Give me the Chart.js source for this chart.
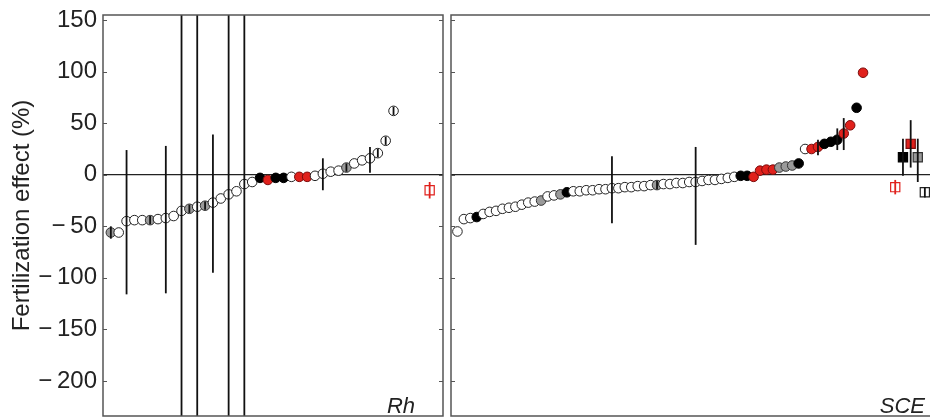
<!DOCTYPE html>
<html>
<head>
<meta charset="utf-8">
<script src="https://cdn.jsdelivr.net/npm/chart.js@4.4.1/dist/chart.umd.min.js"></script>
<style>
  html, body { margin: 0; padding: 0; background: #fff; overflow: hidden; width: 930px; height: 419px; }
  canvas { display: block; }
  #rhBox { position: absolute; left: 0; top: 0; width: 446px; height: 419px; }
  #sceBox { position: absolute; left: 446px; top: 0; width: 484px; height: 419px; }
</style>
</head>
<body>
<div id="rhBox"><canvas id="rhChart" width="446" height="419"></canvas></div>
<div id="sceBox"><canvas id="sceChart" width="484" height="419"></canvas></div>
<script>
// y axis
const yTicks = [-200, -150, -100, -50, 0, 50, 100, 150];
const yMin = -234;
const yMax = 155;

// Rh panel: ranked study effects, w = white, g = grey, k = black, r = red
const rhEffect = [-56, -56, -45, -44, -44, -44, -43, -42, -40, -35, -33, -31, -30, -27, -23, -19, -16, -9, -7,
  -3, -5, -3, -3, -2, -2, -2, -1, 1, 3, 4, 7, 11, 14, 16, 21, 33, 62];
const rhGroup = ['g', 'w', 'w', 'w', 'w', 'g', 'w', 'w', 'w', 'w', 'g', 'w', 'g', 'w', 'w', 'w', 'w', 'w', 'w',
  'k', 'r', 'k', 'k', 'w', 'r', 'r', 'w', 'w', 'w', 'w', 'g', 'w', 'w', 'w', 'w', 'w', 'w'];
const rhMeanX = [41.6];
const rhMean = [-15];
const rhMeanGroup = ['ro'];
// error bars (x position, low, high); +-400 runs off the plot
const rhBarAt = [1, 3, 6, 8, 10, 11, 12, 13, 14, 16, 18, 28, 31, 34, 35, 36, 37, 41.6];
const rhBarLo = [-62, -116, -48, -115, -400, -37, -400, -34, -95, -400, -400, -15, 3, 2, 17, 29, 58, -23];
const rhBarHi = [-50, 24, -40, 28, 400, -29, 400, -26, 39, 400, 400, 16, 11, 27, 25, 37, 66, -7];

// SCE panel
const sceEffect = [-55, -43, -42, -41, -38, -36, -35, -33, -32, -31, -29, -27, -26, -25, -21, -20, -19, -17,
  -16, -16, -15, -15, -14, -14, -13, -13, -12, -12, -11, -11, -10, -10, -9, -9, -8, -8, -7, -7, -6, -5, -5,
  -4, -3, -2, -1, -1, -2, 4, 5, 5, 7, 8, 9, 11, 25, 25, 27, 30, 32, 34, 40, 48, 65, 99];
const sceGroup = ['w', 'w', 'w', 'k', 'w', 'w', 'w', 'w', 'w', 'w', 'w', 'w', 'w', 'g', 'w', 'w', 'g', 'k',
  'w', 'w', 'w', 'w', 'w', 'w', 'w', 'w', 'w', 'w', 'w', 'w', 'w', 'g', 'w', 'w', 'w', 'w', 'w', 'w', 'w', 'w', 'w',
  'w', 'w', 'w', 'k', 'k', 'r', 'r', 'r', 'r', 'g', 'g', 'g', 'k', 'w', 'r', 'r', 'k', 'k', 'k', 'r', 'r', 'k', 'r'];
const sceMeanX = [69, 70.2, 71.4, 72.5, 73.6];
const sceMean = [-12, 17, 30, 17, -17];
const sceMeanGroup = ['ro', 'k', 'r', 'g', 'ko'];
const sceBarAt = [25, 32, 38, 57, 60, 61, 69, 70.2, 71.4, 72.5, 73.6];
const sceBarLo = [-47, -14, -68, 19, 24, 24, -19, -1, 7, -7, -22];
const sceBarHi = [18, -6, 27, 34, 45, 55, -5, 35, 53, 35, -12];

const fill = { w: '#ffffff', g: '#9a9a9a', k: '#000000', r: '#e0211c', ro: '#ffffff', ko: '#ffffff' };
const edge = { w: '#222222', g: '#333333', k: '#000000', r: '#7a0c0c', ro: '#e0211c', ko: '#222222' };
const fontFamily = '"Liberation Sans", Arial, Helvetica, sans-serif';

const errorBars = {
  id: 'errorBars',
  afterDatasetsDraw(chart, args, opts) {
    const { ctx, chartArea, scales: { x, y } } = chart;
    ctx.save();
    ctx.beginPath();
    ctx.rect(chartArea.left, chartArea.top, chartArea.width, chartArea.height);
    ctx.clip();
    opts.at.forEach((v, i) => {
      const px = x.getPixelForValue(v);
      ctx.strokeStyle = opts.red.includes(v) ? '#e0211c' : '#111';
      ctx.lineWidth = 1.8;
      ctx.beginPath();
      ctx.moveTo(px, y.getPixelForValue(opts.lo[i]));
      ctx.lineTo(px, y.getPixelForValue(opts.hi[i]));
      ctx.stroke();
    });
    ctx.restore();
  }
};

const frame = {
  id: 'frame',
  afterDraw(chart, args, opts) {
    const { ctx, chartArea: a, scales: { y } } = chart;
    ctx.save();
    ctx.strokeStyle = '#555';
    ctx.lineWidth = 1.5;
    ctx.beginPath();
    if (opts.openRight) {
      ctx.moveTo(a.right + 2, a.top);
      ctx.lineTo(a.left, a.top);
      ctx.lineTo(a.left, a.bottom);
      ctx.lineTo(a.right + 2, a.bottom);
    } else {
      ctx.rect(a.left, a.top, a.width, a.height);
    }
    ctx.stroke();
    // small inward ticks
    ctx.lineWidth = 1;
    y.ticks.forEach(t => {
      const py = Math.round(y.getPixelForValue(t.value)) + 0.5;
      ctx.beginPath();
      ctx.moveTo(a.left, py);
      ctx.lineTo(a.left + 4, py);
      if (!opts.openRight) {
        ctx.moveTo(a.right, py);
        ctx.lineTo(a.right - 4, py);
      }
      ctx.stroke();
    });
    ctx.font = 'italic 22px ' + fontFamily;
    ctx.fillStyle = '#222';
    ctx.textAlign = 'right';
    ctx.textBaseline = 'alphabetic';
    ctx.fillText(opts.label, a.right - opts.labelInset, a.bottom - 3);
    ctx.restore();
  }
};

function circles(values, groups) {
  return {
    data: values.map((v, i) => ({ x: i + 1, y: v })),
    pointStyle: 'circle',
    pointRadius: 4.8,
    borderWidth: 1,
    backgroundColor: groups.map(g => fill[g]),
    borderColor: groups.map(g => edge[g])
  };
}

function squares(xs, values, groups) {
  return {
    data: xs.map((x, i) => ({ x: x, y: values[i] })),
    pointStyle: 'rect',
    pointRadius: 6.5,
    borderWidth: 1.2,
    backgroundColor: groups.map(g => fill[g]),
    borderColor: groups.map(g => edge[g])
  };
}

function yScale(showLabels) {
  return {
    min: yMin,
    max: yMax,
    afterBuildTicks: s => { s.ticks = yTicks.map(v => ({ value: v })); },
    afterFit: s => {
      s.width = showLabels ? 103 : 0;
      s.paddingTop = 0;
      s.paddingBottom = 0;
    },
    border: { display: false },
    grid: {
      drawTicks: false,
      lineWidth: 1.2,
      color: c => (c.tick && c.tick.value === 0) ? '#222' : 'rgba(0,0,0,0)'
    },
    ticks: {
      display: showLabels,
      padding: 6,
      color: '#222',
      font: { size: 24, family: fontFamily },
      callback: v => v < 0 ? '\u2212\u2009' + Math.abs(v) : '' + v
    },
    title: {
      display: showLabels,
      text: 'Fertilization effect (%)',
      color: '#222',
      padding: { top: 8, bottom: 0 },
      font: { size: 24, family: fontFamily }
    }
  };
}

new Chart(document.getElementById('rhChart'), {
  type: 'scatter',
  data: {
    datasets: [
      circles(rhEffect, rhGroup),
      squares(rhMeanX, rhMean, rhMeanGroup)
    ]
  },
  options: {
    responsive: false,
    animation: false,
    layout: { autoPadding: false, padding: { top: 15, bottom: 3, left: 0, right: 3 } },
    plugins: {
      legend: { display: false },
      tooltip: { enabled: false },
      errorBars: { at: rhBarAt, lo: rhBarLo, hi: rhBarHi, red: rhMeanX },
      frame: { label: 'Rh', labelInset: 28, openRight: false }
    },
    scales: {
      x: { type: 'linear', display: false, min: 0, max: 43.3 },
      y: yScale(true)
    }
  },
  plugins: [errorBars, frame]
});

new Chart(document.getElementById('sceChart'), {
  type: 'scatter',
  data: {
    datasets: [
      circles(sceEffect, sceGroup),
      squares(sceMeanX, sceMean, sceMeanGroup)
    ]
  },
  options: {
    responsive: false,
    animation: false,
    layout: { autoPadding: false, padding: { top: 15, bottom: 3, left: 5, right: 0 } },
    plugins: {
      legend: { display: false },
      tooltip: { enabled: false },
      errorBars: { at: sceBarAt, lo: sceBarLo, hi: sceBarHi, red: [69] },
      frame: { label: 'SCE', labelInset: 5, openRight: true }
    },
    scales: {
      x: { type: 'linear', display: false, min: 0, max: 74.4 },
      y: yScale(false)
    }
  },
  plugins: [errorBars, frame]
});
</script>
</body>
</html>
